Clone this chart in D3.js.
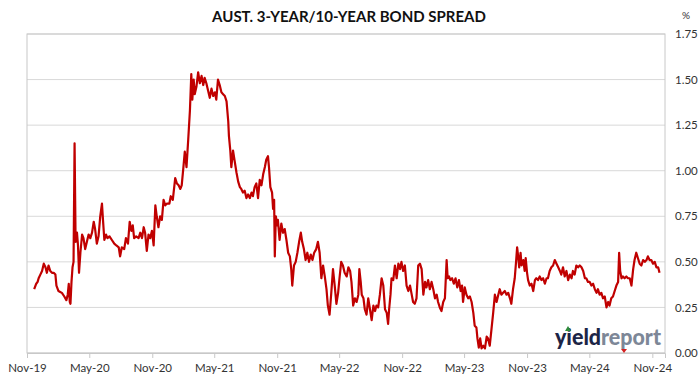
<!DOCTYPE html>
<html>
<head>
<meta charset="utf-8">
<script src="https://cdn.jsdelivr.net/npm/d3@7"></script>
<style>
  body { margin: 0; background: #fff; }
  text { font-family: Lato, "Open Sans", sans-serif; }
</style>
</head>
<body>
<svg id="chart"></svg>
<script>
// Spread (%), as [days since 1 Nov 2019, value]
const startDate = new Date(2019, 10, 1);

const spreadToJan21 = [
  [21,0.35],[27,0.38],[31,0.39],[34,0.41],[39,0.43],[44,0.45],[49,0.49],[54,0.47],[58,0.44],[63,0.48],
  [68,0.45],[73,0.44],[78,0.44],[83,0.43],[86,0.37],[92,0.34],[97,0.335],[102,0.33],[109,0.31],[115,0.29],
  [119,0.32],[122,0.38],[125,0.28],[127,0.27],[130,0.39],[133,0.47],[136,0.50],[139,1.15],[142,0.61],[146,0.66],
  [149,0.59],[152,0.44],[156,0.55],[161,0.65],[165,0.63],[170,0.57],[175,0.61],[180,0.65],[185,0.63],[190,0.66],
  [195,0.72],[199,0.68],[204,0.60],[209,0.64],[214,0.75],[219,0.82],[222,0.73],[226,0.62],[231,0.65],[235,0.63],
  [241,0.64],[248,0.62],[255,0.60],[261,0.59],[268,0.58],[272,0.53],[277,0.58],[284,0.57],[289,0.63],[295,0.60],
  [300,0.72],[305,0.67],[309,0.70],[313,0.63],[319,0.64],[326,0.63],[331,0.66],[336,0.63],[341,0.69],[345,0.66],
  [350,0.56],[355,0.65],[360,0.63],[365,0.67],[370,0.59],[375,0.81],[379,0.75],[384,0.69],[389,0.75],[394,0.73],
  [399,0.84],[404,0.81],[409,0.82],[416,0.82],[420,0.86],[426,0.84],[433,0.96],[438,0.93],[443,0.92],[448,0.90],
  [452,0.92],[457,1.02]
];

const spreadToMay22 = [
  [461,1.105],[466,1.02],[471,1.17],[476,1.33],[480,1.53],[483,1.39],[487,1.50],[490,1.42],[495,1.46],[500,1.54],
  [505,1.48],[510,1.52],[515,1.47],[519,1.51],[524,1.48],[529,1.44],[534,1.40],[539,1.45],[544,1.41],[549,1.43],
  [553,1.39],[558,1.50],[563,1.47],[568,1.43],[573,1.42],[578,1.41],[583,1.38],[588,1.27],[590,1.19],[594,1.11],
  [597,1.02],[602,1.11],[607,1.05],[612,0.99],[617,0.94],[622,0.91],[626,0.90],[631,0.88],[636,0.89],[641,0.85],
  [646,0.87],[651,0.85],[656,0.88],[660,0.86],[665,0.91],[670,0.93],[675,0.85],[680,0.95],[685,0.92],[690,0.98],
  [695,1.02],[699,1.06],[704,1.08],[707,1.02],[711,0.91],[716,0.88],[719,0.79],[722,0.84],[724,0.53],[727,0.75],
  [731,0.70],[733,0.73],[738,0.62],[743,0.71],[748,0.66],[753,0.68],[758,0.62],[763,0.55],[768,0.53],[772,0.46],
  [775,0.37],[780,0.48],[785,0.50],[790,0.55],[795,0.61],[800,0.66],[804,0.61],[809,0.57],[814,0.51],[819,0.55],
  [824,0.50],[829,0.54],[834,0.51],[839,0.55],[845,0.57],[850,0.61],[855,0.55],[860,0.41],[865,0.48],[870,0.42],
  [875,0.35],[879,0.26],[884,0.21],[889,0.33],[894,0.46],[899,0.37],[904,0.27],[909,0.33],[913,0.41],[918,0.50],
  [923,0.48],[928,0.44]
];

const spreadToSep23 = [
  [934,0.42],[939,0.47],[944,0.45],[948,0.39],[953,0.26],[958,0.30],[963,0.28],[968,0.32],[971,0.46],[975,0.39],
  [978,0.32],[983,0.30],[987,0.24],[992,0.21],[997,0.30],[1002,0.24],[1007,0.18],[1012,0.26],[1017,0.23],[1021,0.26],
  [1026,0.25],[1031,0.32],[1036,0.41],[1041,0.37],[1046,0.24],[1051,0.22],[1055,0.16],[1058,0.24],[1062,0.32],[1065,0.41],
  [1070,0.40],[1075,0.48],[1080,0.41],[1085,0.49],[1090,0.46],[1094,0.50],[1099,0.45],[1104,0.48],[1109,0.37],[1114,0.34],
  [1119,0.37],[1124,0.32],[1128,0.28],[1133,0.27],[1138,0.30],[1143,0.48],[1148,0.49],[1153,0.46],[1158,0.32],[1163,0.39],
  [1167,0.36],[1172,0.40],[1177,0.35],[1182,0.39],[1187,0.35],[1192,0.30],[1197,0.32],[1201,0.28],[1206,0.25],[1211,0.23],
  [1216,0.28],[1221,0.30],[1226,0.51],[1229,0.41],[1233,0.42],[1237,0.40],[1242,0.41],[1247,0.38],[1252,0.41],[1257,0.36],
  [1262,0.40],[1267,0.34],[1271,0.37],[1274,0.28],[1279,0.36],[1284,0.32],[1289,0.30],[1294,0.31],[1299,0.28],[1304,0.22],
  [1308,0.15],[1313,0.14],[1316,0.08],[1320,0.03],[1324,0.08],[1328,0.025],[1333,0.04],[1338,0.025],[1343,0.09],[1347,0.08],
  [1352,0.04],[1357,0.13],[1362,0.22],[1367,0.32],[1372,0.28],[1377,0.32],[1381,0.35],[1386,0.32],[1391,0.33]
];

const spreadToNov24 = [
  [1396,0.34],[1401,0.32],[1406,0.33],[1411,0.30],[1415,0.27],[1420,0.35],[1425,0.41],[1428,0.48],[1432,0.58],[1435,0.53],
  [1438,0.47],[1442,0.55],[1445,0.48],[1450,0.51],[1454,0.45],[1457,0.52],[1461,0.44],[1464,0.40],[1469,0.37],[1474,0.38],
  [1479,0.34],[1484,0.40],[1488,0.41],[1493,0.40],[1498,0.42],[1503,0.40],[1508,0.41],[1513,0.38],[1518,0.41],[1522,0.41],
  [1527,0.45],[1532,0.47],[1537,0.48],[1542,0.51],[1547,0.49],[1552,0.47],[1557,0.45],[1561,0.43],[1566,0.47],[1571,0.42],
  [1576,0.45],[1581,0.40],[1586,0.43],[1591,0.41],[1595,0.45],[1600,0.43],[1605,0.48],[1610,0.47],[1615,0.48],[1620,0.47],
  [1625,0.45],[1630,0.41],[1634,0.41],[1639,0.39],[1644,0.39],[1649,0.37],[1654,0.38],[1659,0.35],[1664,0.33],[1668,0.35],
  [1673,0.32],[1678,0.33],[1683,0.30],[1688,0.31],[1693,0.25],[1698,0.28],[1702,0.26],[1707,0.30],[1712,0.31],[1717,0.34],
  [1722,0.37],[1727,0.39],[1730,0.55],[1733,0.45],[1737,0.41],[1741,0.42],[1746,0.41],[1751,0.42],[1756,0.41],[1761,0.41],
  [1766,0.37],[1771,0.46],[1775,0.51],[1780,0.55],[1785,0.52],[1790,0.49],[1795,0.48],[1800,0.51],[1805,0.50],[1810,0.51],
  [1814,0.53],[1819,0.51],[1824,0.51],[1829,0.49],[1834,0.50],[1839,0.47],[1844,0.47],[1848,0.44]
];

const xTickLabels = ["Nov-19","May-20","Nov-20","May-21","Nov-21","May-22","Nov-22","May-23","Nov-23","May-24","Nov-24"];
const yTickValues = [0, 0.25, 0.5, 0.75, 1.0, 1.25, 1.5, 1.75];

const data = [].concat(spreadToJan21, spreadToMay22, spreadToSep23, spreadToNov24)
  .map(d => ({date: d3.timeDay.offset(startDate, d[0]), value: d[1]}));

const width = 699, height = 385;
const margin = {top: 34, right: 34, bottom: 32, left: 27};

const svg = d3.select("#chart")
  .attr("width", width)
  .attr("height", height);

const parseTick = d3.timeParse("%b-%y");
const xTicks = xTickLabels.map(parseTick);

const xScale = d3.scaleTime()
  .domain([startDate, new Date(2024, 11, 8)])
  .range([margin.left, width - margin.right]);

const yScale = d3.scaleLinear()
  .domain([0, 1.75])
  .range([height - margin.bottom, margin.top]);

// gridlines
svg.append("g")
  .selectAll("line")
  .data(yTickValues)
  .enter().append("line")
  .attr("x1", margin.left)
  .attr("x2", width - margin.right)
  .attr("y1", d => yScale(d))
  .attr("y2", d => yScale(d))
  .attr("stroke", "#d9d9d9")
  .attr("stroke-width", 1);

// plot frame
svg.append("rect")
  .attr("x", margin.left)
  .attr("y", margin.top)
  .attr("width", width - margin.right - margin.left)
  .attr("height", height - margin.bottom - margin.top)
  .attr("fill", "none")
  .attr("stroke", "#c8c8c8");

// x axis
const xAxis = svg.append("g")
  .attr("transform", `translate(0,${height - margin.bottom})`)
  .call(d3.axisBottom(xScale).tickValues(xTicks).tickFormat(d3.timeFormat("%b-%y")).tickSize(5).tickPadding(6));
xAxis.select(".domain").attr("stroke", "#c8c8c8");
xAxis.selectAll(".tick line").attr("stroke", "#c8c8c8");
xAxis.selectAll("text").attr("font-size", 11.5).attr("fill", "#333");

// y axis on the right
const yAxis = svg.append("g")
  .attr("transform", `translate(${width - margin.right},0)`)
  .call(d3.axisRight(yScale).tickValues(yTickValues).tickFormat(d3.format(".2f")).tickSize(0).tickPadding(10));
yAxis.select(".domain").remove();
yAxis.selectAll("text").attr("font-size", 11.5).attr("fill", "#333");

svg.append("text")
  .attr("x", 686)
  .attr("y", 19)
  .attr("text-anchor", "middle")
  .attr("font-size", 10)
  .attr("fill", "#333")
  .text("%");

// title
svg.append("text")
  .attr("x", 349)
  .attr("y", 22)
  .attr("text-anchor", "middle")
  .attr("font-size", 15)
  .attr("font-weight", "bold")
  .attr("fill", "#111")
  .text("AUST. 3-YEAR/10-YEAR BOND SPREAD");

// yieldreport logo
const logo = svg.append("text")
  .attr("x", 555)
  .attr("y", 345)
  .attr("font-size", 22)
  .attr("font-weight", 900)
  .attr("textLength", 106)
  .attr("lengthAdjust", "spacingAndGlyphs");
logo.append("tspan").attr("fill", "#1c2546").text("yield");
logo.append("tspan").attr("fill", "#7d8797").text("report");
svg.append("path")
  .attr("d", "M565,331L568,326L571,331Z")
  .attr("fill", "#2e8b3a");
svg.append("path")
  .attr("d", "M621,349L627,349L624,353Z")
  .attr("fill", "#d42020");

// spread line
const line = d3.line()
  .x(d => xScale(d.date))
  .y(d => yScale(d.value));

svg.append("path")
  .datum(data)
  .attr("fill", "none")
  .attr("stroke", "#c00000")
  .attr("stroke-width", 2.2)
  .attr("stroke-linejoin", "round")
  .attr("d", line);
</script>
</body>
</html>
